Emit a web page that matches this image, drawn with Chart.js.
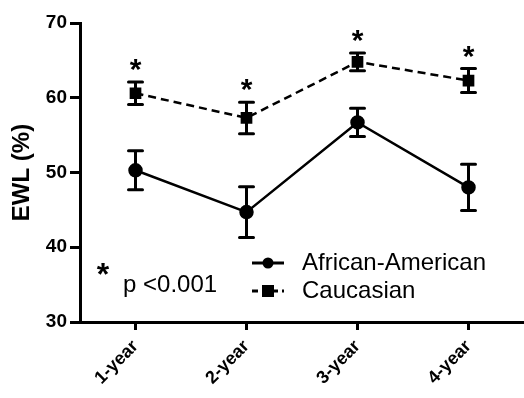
<!DOCTYPE html>
<html>
<head>
<meta charset="utf-8">
<script src="https://cdn.jsdelivr.net/npm/chart.js@4"></script>
<style>
  html, body { margin: 0; padding: 0; background: #fff; }
  #wrap { width: 524px; height: 398px; }
</style>
</head>
<body>
<div id="wrap"><canvas id="ewl"></canvas></div>
<script>
var categories = ['1-year', '2-year', '3-year', '4-year'];
var africanAmerican = [50.3, 44.7, 56.7, 48.0];
var africanAmericanErr = [2.6, 3.4, 1.9, 3.1];
var caucasian = [60.6, 57.3, 64.8, 62.3];
var caucasianErr = [1.5, 2.1, 1.2, 1.6];
var yTicks = [30, 40, 50, 60, 70];
var pNote = 'p <0.001';

var FONT = 'Arial, "Liberation Sans", sans-serif';

// error bars drawn from the err arrays, stars over the Caucasian points
const errorBars = {
   id: 'errorBars',
   beforeDatasetsDraw: function(chart){
      var ctx = chart.ctx;
      var y = chart.scales.y;
      chart.data.datasets.forEach(function(ds, i){
         var meta = chart.getDatasetMeta(i);
         ctx.save();
         ctx.strokeStyle = '#000';
         ctx.lineWidth = 3;
         ctx.lineCap = 'round';
         meta.data.forEach(function(pt, j){
            var top = y.getPixelForValue(ds.data[j] + ds.err[j]);
            var bot = y.getPixelForValue(ds.data[j] - ds.err[j]);
            ctx.beginPath();
            ctx.moveTo(pt.x, top); ctx.lineTo(pt.x, bot);
            ctx.moveTo(pt.x - 7, top); ctx.lineTo(pt.x + 7, top);
            ctx.moveTo(pt.x - 7, bot); ctx.lineTo(pt.x + 7, bot);
            ctx.stroke();
         });
         ctx.restore();
      });
   },
   afterDatasetsDraw: function(chart){
      var ctx = chart.ctx;
      var y = chart.scales.y;
      var ds = chart.data.datasets[1];
      var meta = chart.getDatasetMeta(1);
      ctx.save();
      ctx.fillStyle = '#000';
      ctx.font = 'bold 30px ' + FONT;
      ctx.textAlign = 'center';
      ctx.textBaseline = 'alphabetic';
      meta.data.forEach(function(pt, j){
         var top = y.getPixelForValue(ds.data[j] + ds.err[j]);
         ctx.fillText('*', pt.x, top - 3);
      });
      ctx.restore();
   }
};

// legend and p-value note
const legendNote = {
   id: 'legendNote',
   afterDraw: function(chart){
      var ctx = chart.ctx;
      ctx.save();
      ctx.fillStyle = '#000';
      ctx.strokeStyle = '#000';
      ctx.font = 'bold 32px ' + FONT;
      ctx.textAlign = 'center';
      ctx.textBaseline = 'alphabetic';
      ctx.fillText('*', 103, 285);
      ctx.font = '24px ' + FONT;
      ctx.textAlign = 'left';
      ctx.textBaseline = 'middle';
      ctx.fillText(pNote, 123, 285);

      var rows = [[263, 0], [291, 1]];
      rows.forEach(function(r){
         var ds = chart.data.datasets[r[1]];
         var yy = r[0];
         ctx.lineWidth = 3;
         ctx.setLineDash(ds.borderDash ? [6, 4] : []);
         ctx.beginPath();
         ctx.moveTo(252, yy); ctx.lineTo(284, yy);
         ctx.stroke();
         ctx.setLineDash([]);
         if (ds.pointStyle === 'rect') {
            ctx.fillRect(262, yy - 6, 12, 12);
         } else {
            ctx.beginPath();
            ctx.arc(268, yy, 5.5, 0, Math.PI * 2);
            ctx.fill();
         }
         ctx.font = '24px ' + FONT;
         ctx.fillText(ds.label, 302, yy);
      });
      ctx.restore();
   }
};

const data = {
   labels: categories,
   datasets: [{
      label: 'African-American',
      data: africanAmerican,
      err: africanAmericanErr,
      borderColor: '#000',
      backgroundColor: '#000',
      borderWidth: 2.5,
      pointStyle: 'circle',
      pointRadius: 6,
      pointHoverRadius: 6,
      tension: 0
   }, {
      label: 'Caucasian',
      data: caucasian,
      err: caucasianErr,
      borderColor: '#000',
      backgroundColor: '#000',
      borderWidth: 2.5,
      borderDash: [8, 5],
      pointStyle: 'rect',
      pointRadius: 6.5,
      pointHoverRadius: 6.5,
      tension: 0
   }]
};

const config = {
   type: 'line',
   data: data,
   options: {
      responsive: true,
      maintainAspectRatio: false,
      animation: false,
      layout: { autoPadding: false, padding: { top: 23, right: -3, left: 4, bottom: 0 } },
      plugins: { legend: { display: false }, tooltip: { enabled: false } },
      scales: {
         x: {
            offset: true,
            grid: { display: true, drawOnChartArea: false, drawTicks: true, tickLength: 8, color: '#000', lineWidth: 3, offset: false },
            border: { display: true, color: '#000', width: 3 },
            ticks: { color: '#000', font: { family: FONT, size: 18, weight: 'bold' }, minRotation: 45, maxRotation: 45, padding: 6 },
            afterFit: function(s){ s.height = 76; s.paddingRight = 0; s.paddingLeft = 0; }
         },
         y: {
            min: 30, max: 70,
            afterBuildTicks: function(s){ s.ticks = yTicks.map(function(v){ return { value: v }; }); },
            grid: { display: true, drawOnChartArea: false, drawTicks: true, tickLength: 10, color: '#000', lineWidth: 3 },
            border: { display: true, color: '#000', width: 3 },
            ticks: { color: '#000', font: { family: FONT, size: 19, weight: 'bold' }, padding: 3 },
            title: { display: true, text: 'EWL (%)', color: '#000', font: { family: FONT, size: 24, weight: 'bold' }, padding: 4 },
            afterFit: function(s){ s.width = 76; s.paddingTop = 0; s.paddingBottom = 0; }
         }
      }
   },
   plugins: [errorBars, legendNote]
};

var ewlChart = new Chart(document.getElementById('ewl'), config);
</script>
</body>
</html>
